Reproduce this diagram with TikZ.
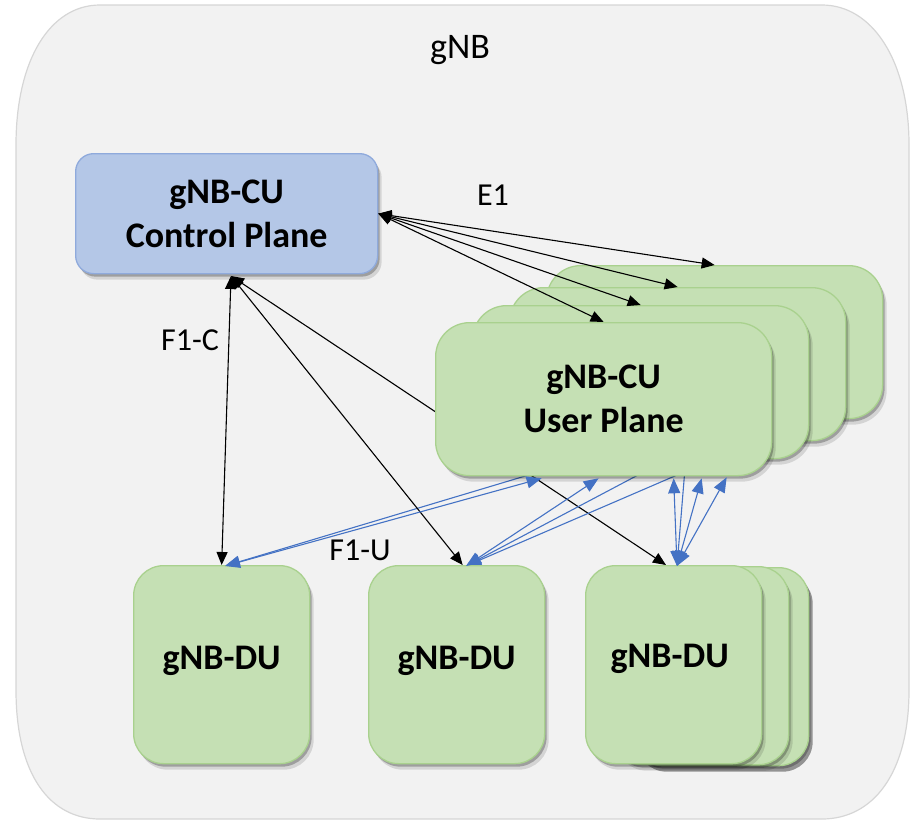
\documentclass[tikz,border=0pt]{standalone}
\usepackage{fontspec}
\setmainfont{Carlito}
\usetikzlibrary{calc,shadows,arrows.meta}

\definecolor{bgfill}{HTML}{F2F2F2}
\definecolor{bgline}{HTML}{D6D6D6}
\definecolor{cpfill}{HTML}{B4C7E7}
\definecolor{cpline}{HTML}{8FAADC}
\definecolor{upfill}{HTML}{C5E0B4}
\definecolor{upline}{HTML}{A9D18E}
\definecolor{fblue}{HTML}{4472C4}

\tikzset{
  softshadow/.style={
    drop shadow={shadow xshift=2pt, shadow yshift=-3pt, fill=black, opacity=0.25},
    drop shadow={shadow xshift=4pt, shadow yshift=-6pt, fill=black, opacity=0.12}},
  cpbox/.style={rectangle, rounded corners=18pt, fill=cpfill, draw=cpline,
    line width=1.3pt, minimum width=302pt, minimum height=120pt,
    anchor=north west, align=center, softshadow,
    font=\fontsize{36}{44}\selectfont\bfseries},
  upbox/.style={rectangle, rounded corners=34pt, fill=upfill, draw=upline,
    line width=1.3pt, minimum width=336pt, minimum height=153pt,
    anchor=north west, align=center, softshadow,
    font=\fontsize{36}{44}\selectfont\bfseries},
  dubox/.style={rectangle, rounded corners=30pt, fill=upfill, draw=upline,
    line width=1.3pt, minimum width=176pt, minimum height=198pt,
    anchor=north west, align=center, softshadow,
    font=\fontsize{36}{44}\selectfont\bfseries},
  dutext/.style={font=\fontsize{36}{44}\selectfont\bfseries},
  lbl/.style={font=\fontsize{32}{38}\selectfont},
  blk/.style={draw=black, line width=1.1pt,
    {Triangle[length=13pt,width=11pt]}-{Triangle[length=13pt,width=11pt]}},
  blu/.style={draw=fblue, line width=1.1pt,
    {Triangle[length=15pt,width=12pt]}-{Triangle[length=15pt,width=12pt]}},
}

\begin{document}
\begin{tikzpicture}[x=1pt,y=-1pt]
\useasboundingbox (0,0) rectangle (912,822);

% enclosing gNB frame with wide oval corners
\draw[fill=bgfill, draw=bgline, line width=1.2pt]
  (100,5) -- (822,5)
  .. controls (872,5) and (909,60) .. (909,145)
  -- (909,690)
  .. controls (909,775) and (872,819) .. (822,819)
  -- (100,819)
  .. controls (50,819) and (16,775) .. (16,690)
  -- (16,145)
  .. controls (16,60) and (50,5) .. (100,5) -- cycle;

\node[font=\fontsize{36}{40}\selectfont] (gnb) at (460,50) {gNB};

% anchor points shared by several links
\coordinate (cpS) at (231,276);
\coordinate (du1in) at (225,566);
\coordinate (du2in) at (466,566);
\coordinate (du3in) at (677,566);

% links that run behind the user-plane stack
\draw[blk] (cpS) -- (666,565);
\draw[blu] (du2in) -- (674,456);
\draw[blu] (du2in) -- (763,438);
\draw[blu] (du1in) -- (592,456);
\draw[blu] (du3in) -- (686,456);

% gNB-CU user plane instances, back to front
\node[upbox] (up4) at (546,265) {};
\node[upbox] (up3) at (509,287) {};
\node[upbox] (up2) at (472,305) {};
\node[upbox] (up1) at (435,322) {gNB-CU\\User Plane};

% gNB-CU control plane
\node[cpbox] (cp) at (75,153) {gNB-CU\\Control Plane};

% gNB-DU instances
\node[dubox] (du1) at (133,565) {};
\node[dubox] (du2) at (368,565) {};
\node[dubox, drop shadow={shadow xshift=4pt, shadow yshift=-6pt, fill=black, opacity=0.3}] (du3c) at (632,567) {};
\node[dubox] (du3m) at (612,566) {};
\node[dubox] (du3a) at (585,565) {};
\node[dutext] (t1) at ($(du1.center)+(0,-4)$) {gNB-DU};
\node[dutext] (t2) at ($(du2.center)+(0,-4)$) {gNB-DU};
\node[dutext] (t3) at ($(du3a.center)+(-4,-6)$) {gNB-DU};

% E1
\draw[blk] (cp.east) -- (up4.north);
\draw[blk] (cp.east) -- (up3.north);
\draw[blk] (cp.east) -- (up2.north);
\draw[blk] (cp.east) -- (up1.north);
\node[lbl] (e1) at (493,195) {E1};

% F1-C
\draw[blk] (cpS) -- (du1.north);
\draw[blk] (cpS) -- ($(du2.north)+(6,0)$);
\node[lbl] (f1c) at (190,340) {F1-C};

% F1-U
\draw[blu] (du1in) -- ($(up1.south)+(-62,2)$);
\draw[blu] (du2in) -- ($(up1.south)+(-5,2)$);
\draw[blu] (du3in) -- ($(up1.south)+(70,2)$);
\draw[blu] (du3in) -- ($(up1.south)+(98,2)$);
\draw[blu] (du3in) -- ($(up1.south)+(123,1)$);
\node[lbl] (f1u) at (360,550) {F1-U};
\end{tikzpicture}
\end{document}
